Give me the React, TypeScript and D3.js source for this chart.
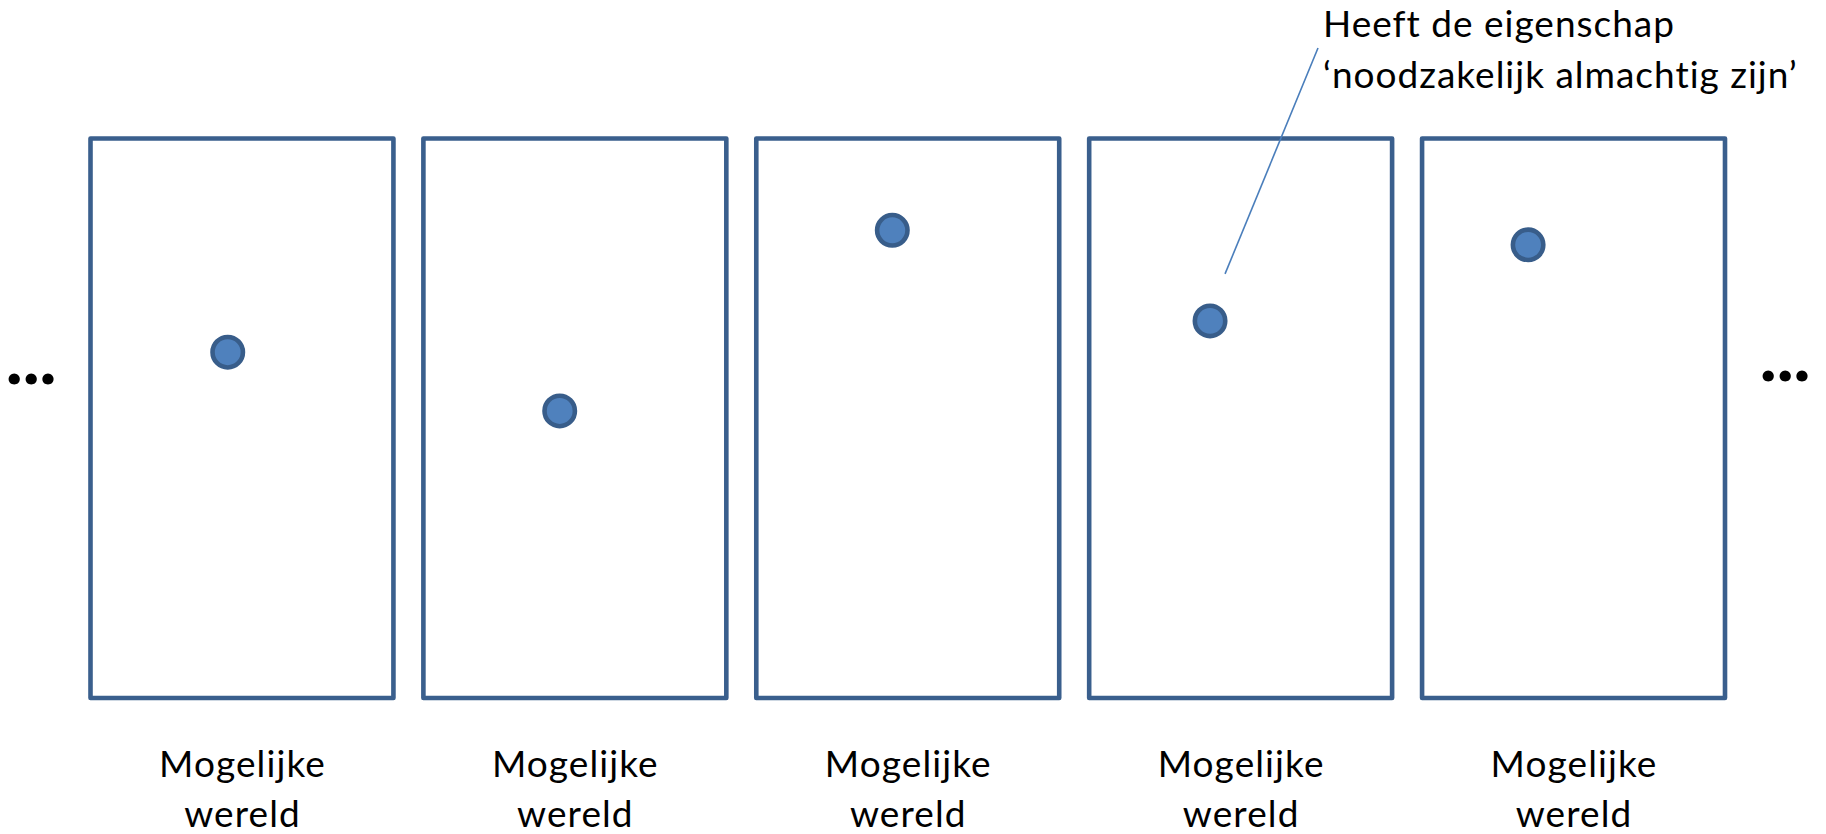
import React, { useEffect, useRef } from 'react';
import * as d3 from 'd3';

// one box per possible world, dot position given as fraction of the box
const worlds = ['w1', 'w2', 'w3', 'w4', 'w5'];
const dotX = [0.453, 0.45, 0.449, 0.399, 0.35];
const dotY = [0.382, 0.487, 0.164, 0.326, 0.19];
const worldLabel = ['Mogelijke', 'wereld'];
const noteLines = ['Heeft de eigenschap', '\u2018noodzakelijk almachtig zijn\u2019'];
const noteWorld = 3;

const W = 1826;
const H = 834;

const App: React.FC = () => {
    const svgRef = useRef<SVGSVGElement | null>(null);

    useEffect(() => {
        if (!svgRef.current) return;

        const svg = d3.select(svgRef.current);
        svg.selectAll('*').remove();

        const top = 138.5;
        const bottom = 698;

        const xBand = d3.scaleBand<string>()
            .domain(worlds)
            .range([90.5, 1725])
            .paddingInner(0.09)
            .paddingOuter(0);

        const yScale = d3.scaleLinear().domain([0, 1]).range([top, bottom]);
        const bw = xBand.bandwidth();
        const xIn = (w: string, f: number) => (xBand(w) || 0) + f * bw;

        const font = 'Lato, "Open Sans", sans-serif';

        // boxes
        svg.selectAll('.world')
            .data(worlds)
            .enter().append('rect')
            .attr('class', 'world')
            .attr('x', d => xBand(d) || 0)
            .attr('y', yScale(0))
            .attr('width', bw)
            .attr('height', yScale(1) - yScale(0))
            .attr('fill', 'none')
            .attr('stroke', '#3A5F8D')
            .attr('stroke-width', 4.6)
            .attr('stroke-linejoin', 'round');

        // annotation leader line
        const nx = xIn(worlds[noteWorld], dotX[noteWorld]);
        const ny = yScale(dotY[noteWorld]);
        svg.append('line')
            .attr('x1', 1318)
            .attr('y1', 48)
            .attr('x2', nx + 15)
            .attr('y2', ny - 47)
            .attr('stroke', '#4A7EBB')
            .attr('stroke-width', 1.6);

        // dots
        svg.selectAll('.dot')
            .data(worlds)
            .enter().append('circle')
            .attr('class', 'dot')
            .attr('cx', (d, i) => xIn(d, dotX[i]))
            .attr('cy', (d, i) => yScale(dotY[i]))
            .attr('r', 15.2)
            .attr('fill', '#4F81BD')
            .attr('stroke', '#385D8A')
            .attr('stroke-width', 4.6);

        // labels under the boxes
        const lbl = svg.selectAll('.label')
            .data(worlds)
            .enter().append('text')
            .attr('class', 'label')
            .attr('text-anchor', 'middle')
            .attr('font-family', font)
            .attr('font-size', 37)
            .attr('letter-spacing', 1.1)
            .attr('fill', '#000');
        worldLabel.forEach((t, i) => {
            lbl.append('tspan')
                .attr('x', d => xIn(d, 0.5) + 0.5)
                .attr('y', 777 + i * 50)
                .text(t);
        });

        // note text
        const note = svg.append('text')
            .attr('font-family', font)
            .attr('font-size', 37)
            .attr('letter-spacing', 1)
            .attr('fill', '#000');
        noteLines.forEach((t, i) => {
            note.append('tspan')
                .attr('x', 1323)
                .attr('y', 37 + i * 51)
                .text(t);
        });

        // ellipses on both sides
        [[6, 379], [1760, 376]].forEach(([x, y]) => {
            svg.append('text')
                .attr('x', x)
                .attr('y', y + 5)
                .attr('font-family', font)
                .attr('font-weight', 900)
                .attr('font-size', 69)
                .attr('letter-spacing', 0.5)
                .attr('fill', '#000')
                .text('...');
        });
    }, []);

    return (
        <div style={{ position: 'absolute', left: 0, top: 0 }}>
            <svg ref={svgRef} width={W} height={H} style={{ display: 'block', background: '#fff' }}></svg>
        </div>
    );
};

export default App;
